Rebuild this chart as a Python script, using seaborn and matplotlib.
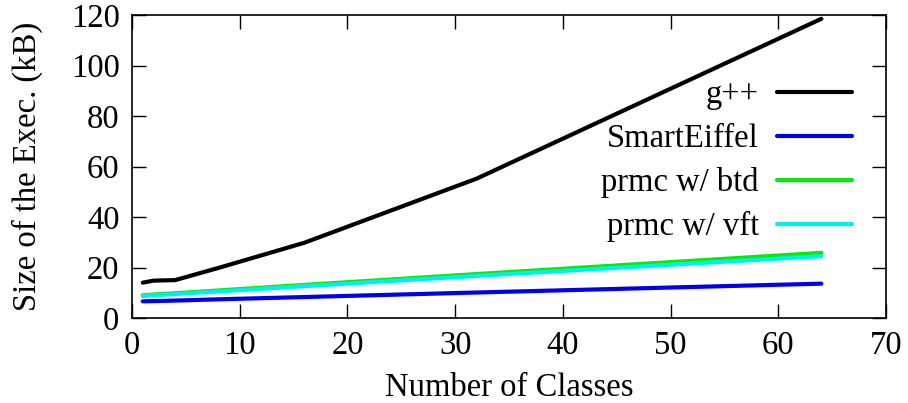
import pandas as pd
import seaborn as sns
import matplotlib.pyplot as plt

classes = [1, 2, 4, 8, 16, 32, 64]
gpp = [14.0, 14.8, 15.0, 19.8, 29.8, 55.2, 118.5]
smarteiffel = [6.6, 6.7, 6.9, 7.4, 8.3, 10.1, 13.6]
prmc_btd = [9.0, 9.3, 9.8, 10.9, 13.1, 17.4, 25.8]
prmc_vft = [8.7, 9.0, 9.5, 10.5, 12.6, 16.7, 24.5]

series_names = ["g++", "SmartEiffel", "prmc w/ btd", "prmc w/ vft"]
colors = ["#000000", "#0000ee", "#00ee00", "#00eeee"]


def main():
    df = pd.DataFrame({
        "Number of Classes": classes * 4,
        "size": gpp + smarteiffel + prmc_btd + prmc_vft,
        "series": [n for n in series_names for _ in classes],
    })

    sns.set_style("ticks")
    plt.rcParams["font.family"] = ["Liberation Serif", "DejaVu Serif"]
    plt.rcParams["text.color"] = "black"
    plt.rcParams["axes.labelcolor"] = "black"
    plt.rcParams["xtick.color"] = "black"
    plt.rcParams["ytick.color"] = "black"

    fs = 23.5
    fig = plt.figure(figsize=(9.08, 4.03), dpi=100)
    # frame: x 132..886 px, y 15..318 px
    ax = fig.add_axes([132 / 908, 1 - 318 / 403, 754 / 908, 303 / 403])

    sns.lineplot(
        data=df,
        x="Number of Classes",
        y="size",
        hue="series",
        hue_order=series_names,
        palette=colors,
        linewidth=3,
        ax=ax,
    )

    ax.set_xlim(0, 70)
    ax.set_ylim(0, 120)
    ax.set_xticks(range(0, 71, 10))
    ax.set_yticks(range(0, 121, 20))
    ax.tick_params(direction="in", top=True, right=True, length=10,
                   width=1, labelsize=fs, pad=9)
    for s in ax.spines.values():
        s.set_linewidth(1.2)
        s.set_color("black")

    ax.set_xlabel("Number of Classes", fontsize=fs, labelpad=8)
    ax.set_ylabel("Size of the Exec. (kB)", fontsize=fs, labelpad=20)

    ax.legend(
        loc="upper right",
        bbox_to_anchor=(852 / 908, 1 - 80 / 403),
        bbox_transform=fig.transFigure,
        frameon=False,
        markerfirst=False,
        fontsize=fs,
        borderpad=0,
        borderaxespad=0,
        handlelength=2.3,
        handletextpad=0.55,
        labelspacing=0.4,
    )

    fig.savefig("out.png", dpi=100)


if __name__ == "__main__":
    main()
